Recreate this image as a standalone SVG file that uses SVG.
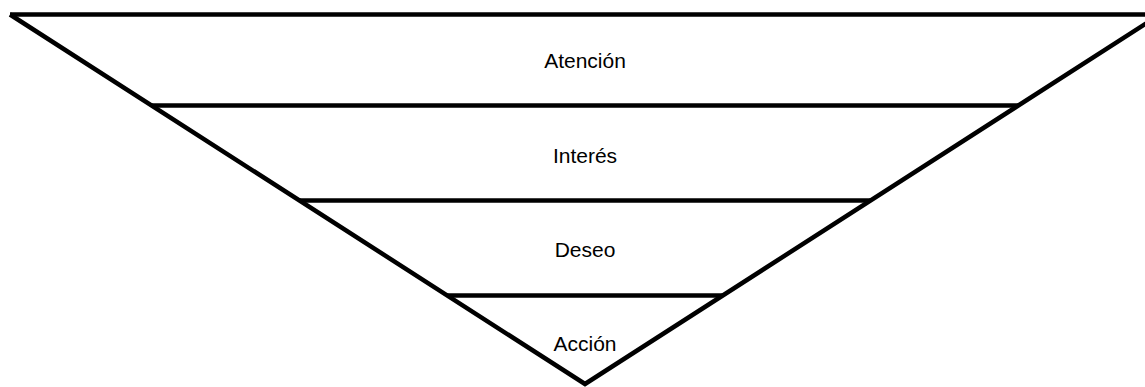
<svg xmlns="http://www.w3.org/2000/svg" width="1145" height="387" viewBox="0 0 1145 387">
<style>
.ln{stroke:#000;stroke-width:4.5;fill:none;stroke-linecap:butt;stroke-linejoin:miter}
.lb{font-family:"Liberation Sans",Arial,sans-serif;font-size:21px;fill:#000;text-anchor:middle;dominant-baseline:central}
</style>
<rect width="1145" height="387" fill="#fff"/>
<g id="connectors">
<polyline class="ln" points="10,14.5 585,384 1160,14.5"/>
</g>
<g id="atencion"><line class="ln" x1="10" y1="14.5" x2="1160" y2="14.5"/><text class="lb" x="585" y="60">Atención</text></g>
<g id="interes"><line class="ln" x1="151" y1="105.5" x2="1019" y2="105.5"/><text class="lb" x="585" y="155">Interés</text></g>
<g id="deseo"><line class="ln" x1="299" y1="200.5" x2="871" y2="200.5"/><text class="lb" x="585" y="249">Deseo</text></g>
<g id="accion"><line class="ln" x1="447" y1="295.5" x2="723" y2="295.5"/><text class="lb" x="585" y="343">Acción</text></g>
</svg>
